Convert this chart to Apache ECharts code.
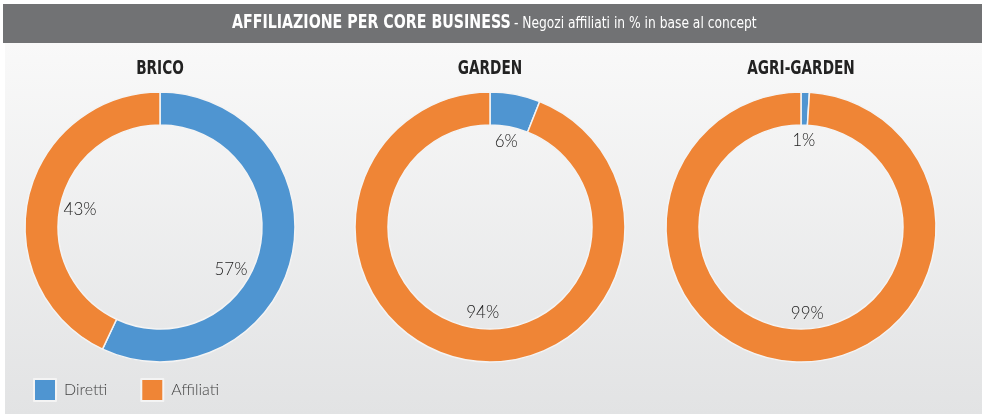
<!DOCTYPE html>
<html>
<head>
<meta charset="utf-8">
<script src="https://cdn.jsdelivr.net/npm/echarts@6/dist/echarts.min.js"></script>
<style>html,body{margin:0;padding:0;background:#fff}#c{width:990px;height:420px}</style>
</head>
<body>
<div id="c"></div>
<script>
const categories = ['BRICO', 'GARDEN', 'AGRI-GARDEN'];
const seriesNames = ['Diretti', 'Affiliati'];
const diretti = [57, 6, 1];
const affiliati = [43, 94, 99];
const mainTitle = 'AFFILIAZIONE PER CORE BUSINESS';
const subTitle = ' - Negozi affiliati in % in base al concept';

const colors = ['#4f95d1', '#ef8536'];
const centersX = [160, 490, 801];
const centerY = 227;
const condFont = '"DejaVu Sans Condensed", "Liberation Sans Narrow", "DejaVu Sans", sans-serif';
const bodyFont = 'Lato, "Noto Sans", sans-serif';

const chart = echarts.init(document.getElementById('c'), null, {renderer: 'canvas'});

const series = [];
const labelSeries = [];
categories.forEach((cat, i) => {
  const data = [
    {name: seriesNames[0], value: diretti[i]},
    {name: seriesNames[1], value: affiliati[i]}
  ];
  series.push({
    type: 'pie',
    name: cat,
    center: [centersX[i], centerY],
    radius: [102, 135],
    startAngle: 90,
    clockwise: true,
    silent: true,
    label: {show: false},
    labelLine: {show: false},
    itemStyle: {borderColor: '#f4f4f4', borderWidth: 1.5},
    data: data
  });
  labelSeries.push({
    type: 'pie',
    name: cat + '-labels',
    center: [centersX[i], centerY],
    radius: [64, 104],
    startAngle: 90,
    clockwise: true,
    silent: true,
    z: 5,
    itemStyle: {color: 'rgba(0,0,0,0)'},
    label: {
      show: true,
      position: 'inside',
      formatter: p => p.value + '%',
      color: '#222',
      fontSize: 17,
      fontFamily: bodyFont,
      fontWeight: 300
    },
    labelLine: {show: false},
    data: data.map((d, k) => {
      const o = {name: d.name, value: d.value};
      if (i === 0 && k === 0) o.label = {offset: [-14, 24]};
      if (i === 0 && k === 1) o.label = {offset: [5, 1]};
      if (i > 0 && k === 1) o.label = {offset: [9, 0]};
      return o;
    })
  });
});

const catTexts = categories.map((cat, i) => ({
  type: 'text', z: 10,
  x: centersX[i], y: 60,
  scaleX: 0.8,
  style: {
    text: cat,
    textAlign: 'center',
    fontFamily: condFont,
    fontWeight: 'bold',
    fontSize: 19,
    fill: '#222'
  }
}));

chart.setOption({
  backgroundColor: '#ffffff',
  color: colors,
  animation: false,
  graphic: [
    {
      type: 'rect', z: -10,
      shape: {x: 5, y: 43, width: 977, height: 371},
      style: {
        fill: new echarts.graphic.LinearGradient(0, 0, 0, 1, [
          {offset: 0, color: '#f9f9f9'},
          {offset: 1, color: '#e2e3e4'}
        ])
      }
    },
    {
      type: 'rect', z: -5,
      shape: {x: 3, y: 4, width: 979, height: 39},
      style: {fill: '#717274'}
    },
    {
      type: 'text', z: 10,
      x: 232, y: 13, scaleX: 0.79,
      style: {
        text: mainTitle,
        fontFamily: condFont, fontWeight: 'bold', fontSize: 20, fill: '#ffffff'
      }
    },
    {
      type: 'text', z: 10,
      x: 510, y: 17, scaleX: 0.91,
      style: {
        text: subTitle,
        fontFamily: condFont, fontWeight: 'normal', fontSize: 15, fill: '#ffffff'
      }
    }
  ].concat(catTexts),
  legend: {
    data: seriesNames,
    left: 33,
    top: 378,
    padding: 0,
    icon: 'rect',
    itemWidth: 22,
    itemHeight: 22,
    itemGap: 33,
    selectedMode: false,
    textStyle: {
      color: '#444',
      fontSize: 16,
      fontFamily: bodyFont,
      fontWeight: 300,
      padding: [0, 0, 0, 3]
    }
  },
  series: series.concat(labelSeries)
});
</script>
</body>
</html>
